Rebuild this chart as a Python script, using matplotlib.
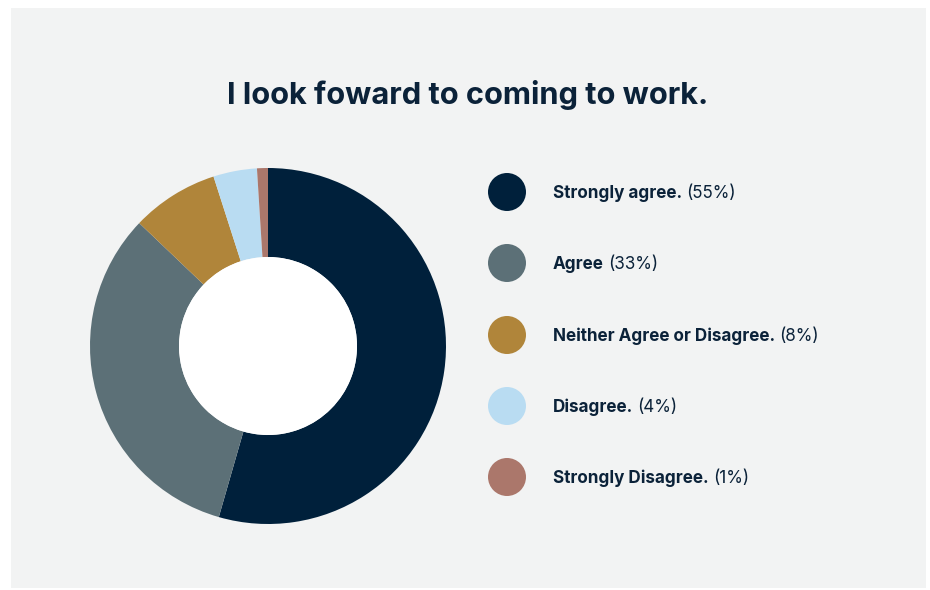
import matplotlib
matplotlib.use("Agg")
import matplotlib.pyplot as plt
from matplotlib.patches import Rectangle

plt.rcParams['font.family'] = ['Inter', 'DejaVu Sans']

title = "I look foward to coming to work."
categories = ["Strongly agree.", "Agree", "Neither Agree or Disagree.", "Disagree.", "Strongly Disagree."]
shares = [55, 33, 8, 4, 1]
colors = ["#00203b", "#5c7077", "#b0853a", "#b9dcf2", "#ab776b"]
text_color = "#0b2239"

W, H = 930, 590
fig = plt.figure(figsize=(W / 100, H / 100), dpi=100)
fig.patch.set_facecolor("white")

# light grey card behind everything
fig.patches.append(Rectangle((11 / W, 2 / H), 915 / W, 580 / H,
                             transform=fig.transFigure, facecolor="#f2f3f3",
                             edgecolor="none", zorder=-5))

fig.text(468 / W, 1 - 95 / H, title, ha="center", va="center",
         fontsize=22.2, fontweight="bold", color=text_color)

# donut with a white hole
cx, cy, r = 268, 346, 178
ax = fig.add_axes([(cx - r) / W, (H - cy - r) / H, 2 * r / W, 2 * r / H])
ax.set_zorder(2)
ax.patch.set_visible(False)
ax.pie(shares, colors=colors, startangle=90, counterclock=False, radius=1,
       wedgeprops=dict(width=0.5, edgecolor="none"))
ax.add_patch(plt.Circle((0, 0), 0.5, facecolor="white", edgecolor="none", zorder=3))
ax.set_xlim(-1, 1)
ax.set_ylim(-1, 1)
ax.set_aspect("equal")
ax.axis("off")

# legend: dot, bold name, regular percentage
lx, tx = 507, 553
ys = [192, 263, 335, 406, 477]
fig.canvas.draw()
renderer = fig.canvas.get_renderer()
for name, pct, col, y in zip(categories, shares, colors, ys):
    fig.patches.append(plt.Circle((lx, H - y), 19, transform=None,
                                  facecolor=col, edgecolor="none", zorder=1))
    base = 1 - (y + 6) / H
    t = fig.text(tx / W, base, name, ha="left", va="baseline",
                 fontsize=12.3, fontweight="bold", color=text_color)
    bb = t.get_window_extent(renderer)
    fig.text((bb.x1 + 4) / W, base, f"({pct}%)", ha="left", va="baseline",
             fontsize=12.3, color=text_color)

fig.savefig("out.png", dpi=100)
